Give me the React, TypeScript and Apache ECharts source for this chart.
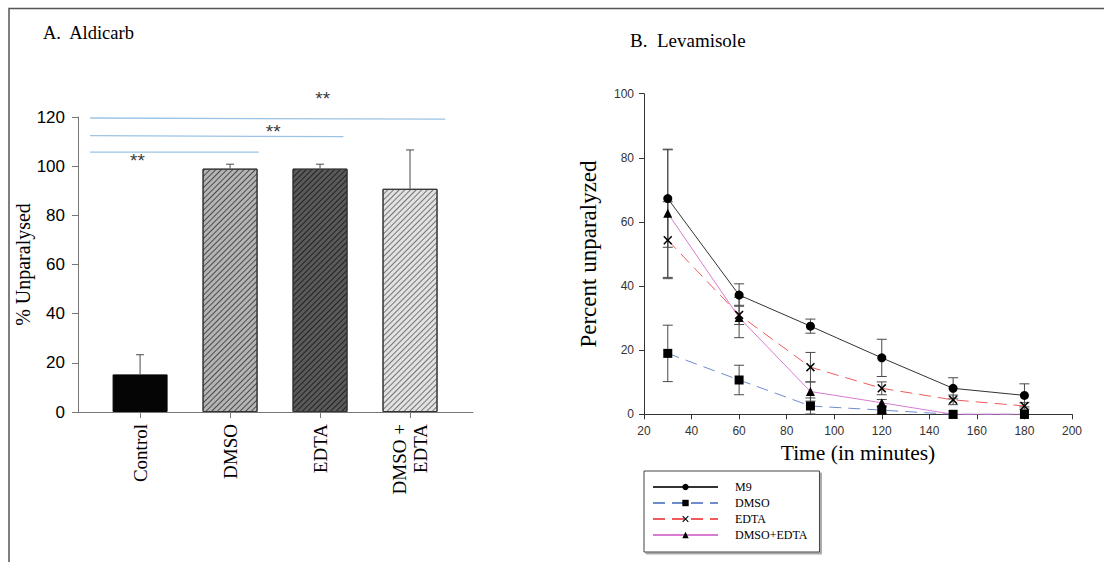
import React, { useEffect, useRef } from "react";
import * as echarts from "echarts";

// ---------- Panel A: Aldicarb ----------
const aldCategories = ["Control", "DMSO", "EDTA", "DMSO +\nEDTA"];
const aldValues = [15.3, 99.0, 99.0, 90.8];
const aldErrors = [8.0, 1.8, 1.8, 15.8];
// significance lines: [xStart, yStart, xEnd, yEnd] in category-index / % units
const sigLines = [
  [-0.556, 105.7, 1.32, 105.7],
  [-0.556, 112.4, 2.26, 112.0],
  [-0.556, 119.6, 3.39, 119.1],
];
const sigStars = [
  [-0.03, 102.5],
  [1.48, 114.2],
  [2.03, 127.6],
];

// ---------- Panel B: Levamisole ----------
const times = [30, 60, 90, 120, 150, 180];
const m9 = [67.3, 37.2, 27.5, 17.6, 8.1, 5.9];
const m9Err = [15.2, 3.5, 2.2, 5.8, 3.3, 3.6];
const dmso = [19.0, 10.7, 2.6, 1.3, 0, 0];
const dmsoErr = [8.8, 4.6, 2.5, 1.0, 0, 0];
const edta = [54.3, 31.0, 14.7, 8.1, 4.5, 2.6];
const edtaErr = [12.0, 3.0, 4.6, 2.0, 1.5, 1.0];
const dmsoEdta = [62.7, 30.2, 7.1, 3.6, 0, 0];
const dmsoEdtaErr = [20.0, 6.3, 3.0, 1.0, 0, 0];

const SERIF = "'Liberation Serif', 'Times New Roman', serif";
const SANS = "'Liberation Sans', Arial, sans-serif";

const xSymbol =
  "path://M0,1.2 L1.2,0 L5,3.8 L8.8,0 L10,1.2 L6.2,5 L10,8.8 L8.8,10 L5,6.2 L1.2,10 L0,8.8 L3.8,5 Z";

function hatch(lineColor: string) {
  return {
    symbol: "rect",
    symbolSize: 1,
    rotation: -Math.PI / 4,
    dashArrayX: [1, 0],
    dashArrayY: [1, 3],
    color: lineColor,
  };
}

const aldStyles = [
  { color: "#050505", borderColor: "#050505", borderWidth: 1 },
  { color: "#b4b4b4", borderColor: "#333", borderWidth: 1, decal: hatch("rgba(40,40,40,0.75)") },
  { color: "#5a5a5a", borderColor: "#333", borderWidth: 1, decal: hatch("rgba(20,20,20,0.8)") },
  { color: "#e2e2e2", borderColor: "#333", borderWidth: 1, decal: hatch("rgba(90,90,90,0.8)") },
];

function errorBarRender(capHalf: number, upperOnly: boolean) {
  return (params: any, api: any) => {
    const x = api.value(0);
    const lo = api.coord([x, api.value(1)]);
    const hi = api.coord([x, api.value(2)]);
    const style = { stroke: "#4a4a4a", lineWidth: 1 };
    const children: any[] = [
      { type: "line", shape: { x1: lo[0], y1: lo[1], x2: hi[0], y2: hi[1] }, style },
      { type: "line", shape: { x1: hi[0] - capHalf, y1: hi[1], x2: hi[0] + capHalf, y2: hi[1] }, style },
    ];
    if (!upperOnly) {
      children.push({
        type: "line",
        shape: { x1: lo[0] - capHalf, y1: lo[1], x2: lo[0] + capHalf, y2: lo[1] },
        style,
      });
    }
    return { type: "group", children };
  };
}

function errData(vals: number[], errs: number[]) {
  const out: number[][] = [];
  vals.forEach((v, i) => {
    if (errs[i] > 0) out.push([times[i], v - errs[i], v + errs[i]]);
  });
  return out;
}

export default function App() {
  const ref = useRef<HTMLDivElement>(null);
  useEffect(() => {
    if (!ref.current) return;
    const chart = echarts.init(ref.current, undefined, { renderer: "svg" });

    const lineSeries = (
      name: string,
      vals: number[],
      color: string,
      type: any,
      symbol: string,
      symbolSize: number
    ) => ({
      name,
      type: "line",
      xAxisIndex: 1,
      yAxisIndex: 1,
      data: times.map((t, i) => [t, vals[i]]),
      symbol,
      symbolSize,
      itemStyle: { color: "#000", borderWidth: 0 },
      lineStyle: { color, width: 1, type },
      z: 5,
    });

    const errSeries = (vals: number[], errs: number[]) => ({
      type: "custom",
      xAxisIndex: 1,
      yAxisIndex: 1,
      renderItem: errorBarRender(5, false),
      data: errData(vals, errs),
      encode: { x: 0, y: [1, 2] },
      z: 3,
      silent: true,
    });

    chart.setOption({
      animation: false,
      backgroundColor: "#fff",
      graphic: [
        {
          type: "rect",
          shape: { x: 9, y: 8.5, width: 1200, height: 700 },
          style: { fill: "none", stroke: "#555", lineWidth: 1.5 },
        },
        {
          type: "text",
          left: 43,
          top: 23,
          style: { text: "A.  Aldicarb", font: `18.5px ${SERIF}`, fill: "#000" },
        },
        {
          type: "text",
          left: 630,
          top: 31,
          style: { text: "B.  Levamisole", font: `19px ${SERIF}`, fill: "#000" },
        },
      ],
      grid: [
        { left: 78, top: 117, width: 395, height: 295 },
        { left: 644, top: 93.7, width: 428, height: 320.6 },
      ],
      xAxis: [
        {
          gridIndex: 0,
          type: "value",
          min: -0.69,
          max: 3.7,
          splitLine: { show: false },
          axisLine: { show: true, onZero: false, lineStyle: { color: "#777", width: 1 } },
          axisTick: { show: true, customValues: [0, 1, 2, 3], length: 6, lineStyle: { color: "#777" } },
          axisLabel: {
            customValues: [0, 1, 2, 3],
            formatter: (v: number) => aldCategories[Math.round(v)],
            rotate: 90,
            margin: 12,
            fontFamily: SERIF,
            fontSize: 19,
            color: "#000",
            lineHeight: 21,
          },
        },
        {
          gridIndex: 1,
          type: "value",
          min: 20,
          max: 200,
          interval: 20,
          splitLine: { show: false },
          axisLine: { show: true, onZero: false, lineStyle: { color: "#333" } },
          axisTick: { show: true, length: 5, lineStyle: { color: "#333" } },
          axisLabel: { fontFamily: SANS, fontSize: 12, color: "#333", margin: 11 },
          name: "Time (in minutes)",
          nameLocation: "middle",
          nameGap: 27,
          nameTextStyle: { fontFamily: SERIF, fontSize: 21.5, color: "#000" },
        },
      ],
      yAxis: [
        {
          gridIndex: 0,
          type: "value",
          min: 0,
          max: 120,
          interval: 20,
          splitLine: { show: false },
          axisLine: { show: true, onZero: false, lineStyle: { color: "#777" } },
          axisTick: { show: true, length: 6, lineStyle: { color: "#777" } },
          axisLabel: { fontFamily: SANS, fontSize: 17, color: "#000", margin: 13 },
          name: "% Unparalysed",
          nameLocation: "middle",
          nameGap: 41,
          nameTextStyle: { fontFamily: SERIF, fontSize: 20, color: "#000" },
        },
        {
          gridIndex: 1,
          type: "value",
          min: 0,
          max: 100,
          interval: 20,
          splitLine: { show: false },
          axisLine: { show: true, onZero: false, lineStyle: { color: "#333" } },
          axisTick: { show: true, length: 5, lineStyle: { color: "#333" } },
          axisLabel: { fontFamily: SANS, fontSize: 12, color: "#333", margin: 10 },
          name: "Percent unparalyzed",
          nameLocation: "middle",
          nameGap: 44,
          nameTextStyle: { fontFamily: SERIF, fontSize: 23, color: "#000" },
        },
      ],
      legend: {
        left: 644,
        top: 471,
        orient: "vertical",
        data: ["M9", "DMSO", "EDTA", "DMSO+EDTA"],
        itemWidth: 65,
        itemHeight: 8,
        itemGap: 2,
        padding: [9, 12, 10, 8],
        backgroundColor: "#fff",
        borderColor: "#444",
        borderWidth: 1,
        borderRadius: 0,
        shadowColor: "#aaa",
        shadowOffsetX: 2,
        shadowOffsetY: 2,
        shadowBlur: 0,
        textStyle: {
          fontFamily: SERIF,
          fontSize: 12,
          color: "#000",
          lineHeight: 14,
          padding: [0, 0, 0, 12],
        },
      },
      series: [
        // Panel A bars
        {
          type: "bar",
          xAxisIndex: 0,
          yAxisIndex: 0,
          barWidth: 55,
          data: aldValues.map((v, i) => ({ value: [i, v], itemStyle: aldStyles[i] })),
          z: 2,
        },
        {
          type: "custom",
          xAxisIndex: 0,
          yAxisIndex: 0,
          renderItem: errorBarRender(4, true),
          data: aldValues.map((v, i) => [i, v, v + aldErrors[i]]),
          encode: { x: 0, y: [1, 2] },
          z: 3,
          silent: true,
        },
        ...sigLines.map((l) => ({
          type: "line",
          xAxisIndex: 0,
          yAxisIndex: 0,
          clip: false,
          symbol: "none",
          data: [
            [l[0], l[1]],
            [l[2], l[3]],
          ],
          lineStyle: { color: "#9cc3e5", width: 1.3 },
          silent: true,
        })),
        {
          type: "scatter",
          xAxisIndex: 0,
          yAxisIndex: 0,
          clip: false,
          symbolSize: 1,
          itemStyle: { color: "rgba(0,0,0,0)" },
          data: sigStars,
          label: {
            show: true,
            position: "inside",
            formatter: "**",
            fontFamily: SANS,
            fontSize: 19,
            color: "#000",
          },
          silent: true,
        },
        // Panel B
        errSeries(m9, m9Err),
        errSeries(dmso, dmsoErr),
        errSeries(edta, edtaErr),
        errSeries(dmsoEdta, dmsoEdtaErr),
        lineSeries("M9", m9, "#333333", "solid", "circle", 9),
        lineSeries("DMSO", dmso, "#6f8ccc", [12, 7], "rect", 9),
        lineSeries("EDTA", edta, "#f05a5a", [12, 7], xSymbol, 9),
        lineSeries("DMSO+EDTA", dmsoEdta, "#d77cd0", "solid", "triangle", 9),
      ],
    });
    return () => chart.dispose();
  }, []);
  return (
    <div
      ref={ref}
      style={{ position: "fixed", left: 0, top: 0, width: 1104, height: 562, background: "#fff" }}
    />
  );
}
